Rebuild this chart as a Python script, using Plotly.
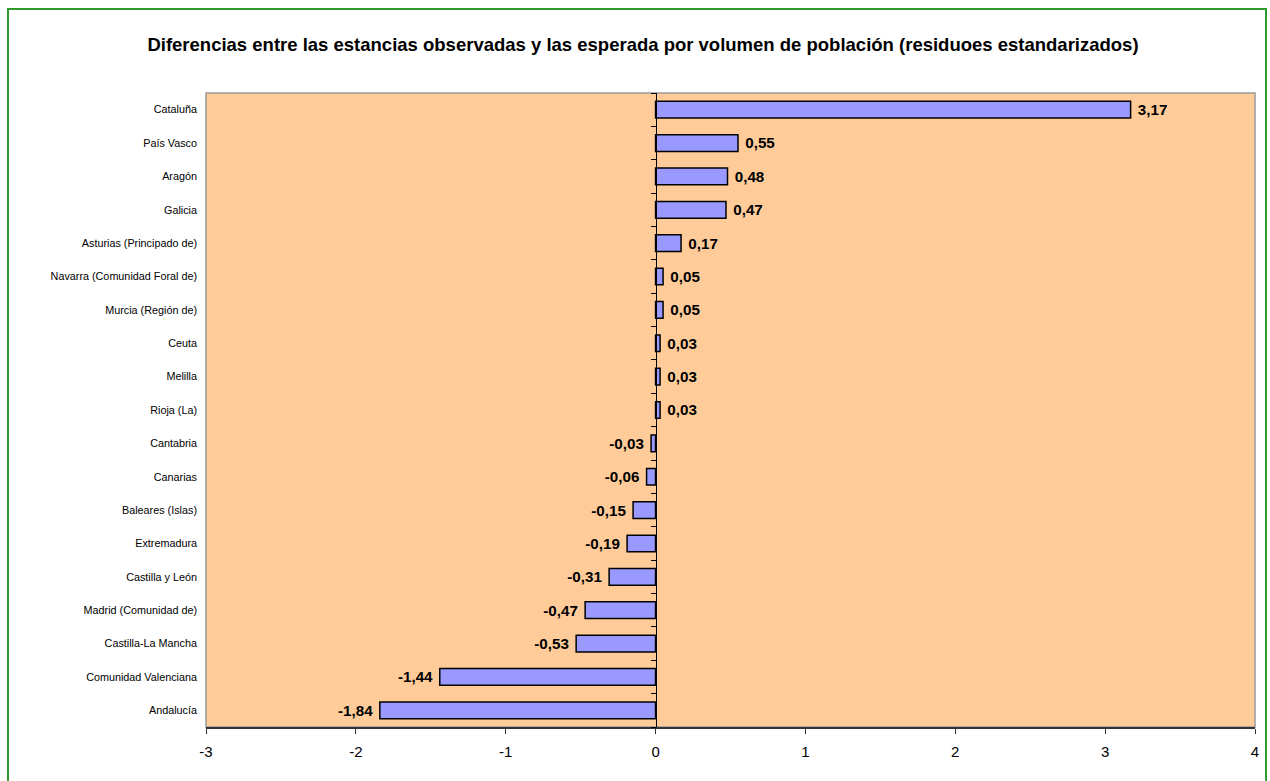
import plotly.graph_objects as go

regions = ["Cataluña", "País Vasco", "Aragón", "Galicia", "Asturias (Principado de)",
           "Navarra (Comunidad Foral de)", "Murcia (Región de)", "Ceuta", "Melilla",
           "Rioja (La)", "Cantabria", "Canarias", "Baleares (Islas)", "Extremadura",
           "Castilla y León", "Madrid (Comunidad de)", "Castilla-La Mancha",
           "Comunidad Valenciana", "Andalucía"]
residuals = [3.17, 0.55, 0.48, 0.47, 0.17, 0.05, 0.05, 0.03, 0.03, 0.03,
             -0.03, -0.06, -0.15, -0.19, -0.31, -0.47, -0.53, -1.44, -1.84]
x_ticks = [-3, -2, -1, 0, 1, 2, 3, 4]
title = "Diferencias entre las estancias observadas y las esperada por volumen de población (residuoes estandarizados)"

labels = [(" " + f"{v:.2f}".replace(".", ",")) if v >= 0 else (f"{v:.2f}".replace(".", ",") + " ")
          for v in residuals]

FONT = "Liberation Sans, Arial, sans-serif"

fig = go.Figure()
fig.add_trace(go.Bar(
    x=residuals, y=regions, orientation="h",
    marker=dict(color="#9999FF", line=dict(color="black", width=1.5)),
    width=0.5,
    text=labels, textposition="outside", cliponaxis=False,
    textfont=dict(family=FONT, size=15.5, color="black", weight="bold"),
    hoverinfo="x+y",
))
# invisible trace for the zero-positioned category axis
fig.add_trace(go.Scatter(x=[0] * len(regions), y=regions, yaxis="y2",
                         mode="markers", marker=dict(opacity=0), hoverinfo="skip",
                         showlegend=False))

n = len(regions)
W, H = 1270, 781
L, R, T, B = 206, 15, 93, 54
pw, ph = W - L - R, H - T - B

fig.update_layout(
    width=W, height=H,
    margin=dict(l=L, r=R, t=T, b=B),
    paper_bgcolor="white",
    plot_bgcolor="#FFCC99",
    showlegend=False,
    font=dict(family=FONT, color="black"),
    title=dict(text="<b>" + title + "</b>", x=643 / W, xref="container", xanchor="center",
               y=1 - 45 / H, yref="container", yanchor="middle",
               font=dict(family=FONT, size=18.5, color="black")),
    xaxis=dict(range=[-3, 4], tickvals=x_ticks, ticktext=[str(t) for t in x_ticks],
               showgrid=False, zeroline=False, showline=True, linecolor="#333333",
               linewidth=2, ticks="outside", ticklen=5, tickcolor="#333333",
               ticklabelstandoff=5,
               tickfont=dict(size=15, family=FONT), fixedrange=True),
    yaxis=dict(categoryorder="array", categoryarray=regions, range=[n - 0.5, -0.5],
               showgrid=False, zeroline=False, showline=False, ticks="",
               ticklabelstandoff=8, tickfont=dict(size=10.8, family=FONT)),
    yaxis2=dict(overlaying="y", anchor="free", position=3 / 7, side="left",
                range=[n - 0.5, -0.5], categoryorder="array", categoryarray=regions,
                showticklabels=False, showgrid=False, zeroline=False,
                showline=True, linecolor="black", linewidth=1,
                tickmode="array", tickvals=[i - 0.5 for i in range(n + 1)],
                ticks="outside", ticklen=5, tickcolor="black"),
    bargap=0.5,
    shapes=[
        dict(type="rect", xref="paper", yref="paper", x0=0, x1=1, y0=0, y1=1,
             line=dict(color="#999999", width=1.5), fillcolor="rgba(0,0,0,0)", layer="below"),
        dict(type="rect", xref="paper", yref="paper",
             x0=(8 - L) / pw, x1=(1266 - L) / pw, y0=-(B + 20) / ph, y1=(H - 9 - B) / ph,
             line=dict(color="#2E9B2E", width=2), fillcolor="rgba(0,0,0,0)"),
    ],
)
fig.write_html("out.html", config={"displayModeBar": False},
               post_script="document.body.style.margin='0';document.body.style.overflow='hidden';")
